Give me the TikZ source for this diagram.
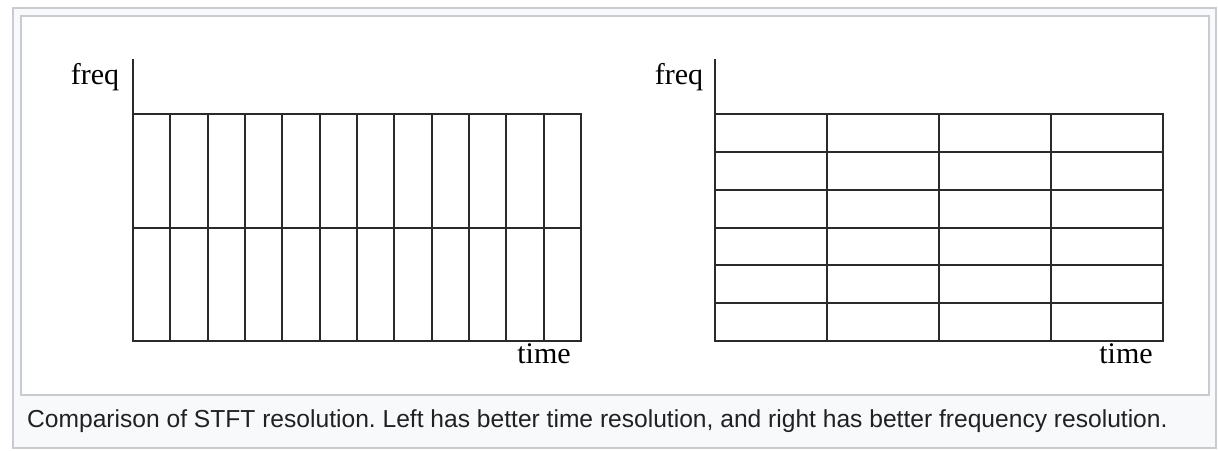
\documentclass[tikz,border=0pt]{standalone}
\usepackage{fontspec}
\setmainfont{Liberation Serif}
\newfontfamily\capfont{Liberation Sans}
\frenchspacing
\definecolor{framegray}{HTML}{C8CCD1}
\definecolor{framefill}{HTML}{F8F9FA}
\definecolor{gridline}{HTML}{2A2A2A}
\definecolor{captext}{HTML}{202122}
\begin{document}
\begin{tikzpicture}[x=1pt,y=-1pt,
  outerframe/.style={draw=framegray,fill=framefill,line width=2pt},
  innerframe/.style={draw=framegray,fill=white,line width=2pt},
  gridstyle/.style={draw=gridline,line width=2pt},
  axislabel/.style={font=\fontsize{30}{36}\selectfont,text=black,inner sep=0pt,anchor=base},
  captionstyle/.style={font=\capfont\fontsize{24.6}{28}\selectfont,text=captext,inner sep=0pt,anchor=base west}]
\useasboundingbox (0,0) rectangle (1218,450);
\fill[white] (0,0) rectangle (1218,450);
\draw[outerframe] (13,8) rectangle (1216,448);
\draw[innerframe] (21,15.5) rectangle (1209,395);
% left plot
\draw[gridstyle] (133,59) -- (133,341) -- (581,341) -- (581,114) -- (133,114);
\draw[gridstyle] (133,228) -- (581,228);
\foreach \i in {1,...,11} {
  \draw[gridstyle] ({133+\i*448/12},114) -- ({133+\i*448/12},341);
}
% right plot
\draw[gridstyle] (715,59) -- (715,341) -- (1163,341) -- (1163,114) -- (715,114);
\foreach \j in {1,...,5} {
  \draw[gridstyle] (715,{114+\j*227/6}) -- (1163,{114+\j*227/6});
}
\foreach \i in {1,2,3} {
  \draw[gridstyle] ({715+\i*112},114) -- ({715+\i*112},341);
}
\node[axislabel] (freqL) at (95,84) {freq};
\node[axislabel] (timeL) at (544,363) {time};
\node[axislabel] (freqR) at (679,84) {freq};
\node[axislabel] (timeR) at (1126,363) {time};
\node[captionstyle] (cap) at (27,427) {Comparison of STFT resolution. Left has better time resolution, and right has better frequency resolution.};
\end{tikzpicture}
\end{document}
